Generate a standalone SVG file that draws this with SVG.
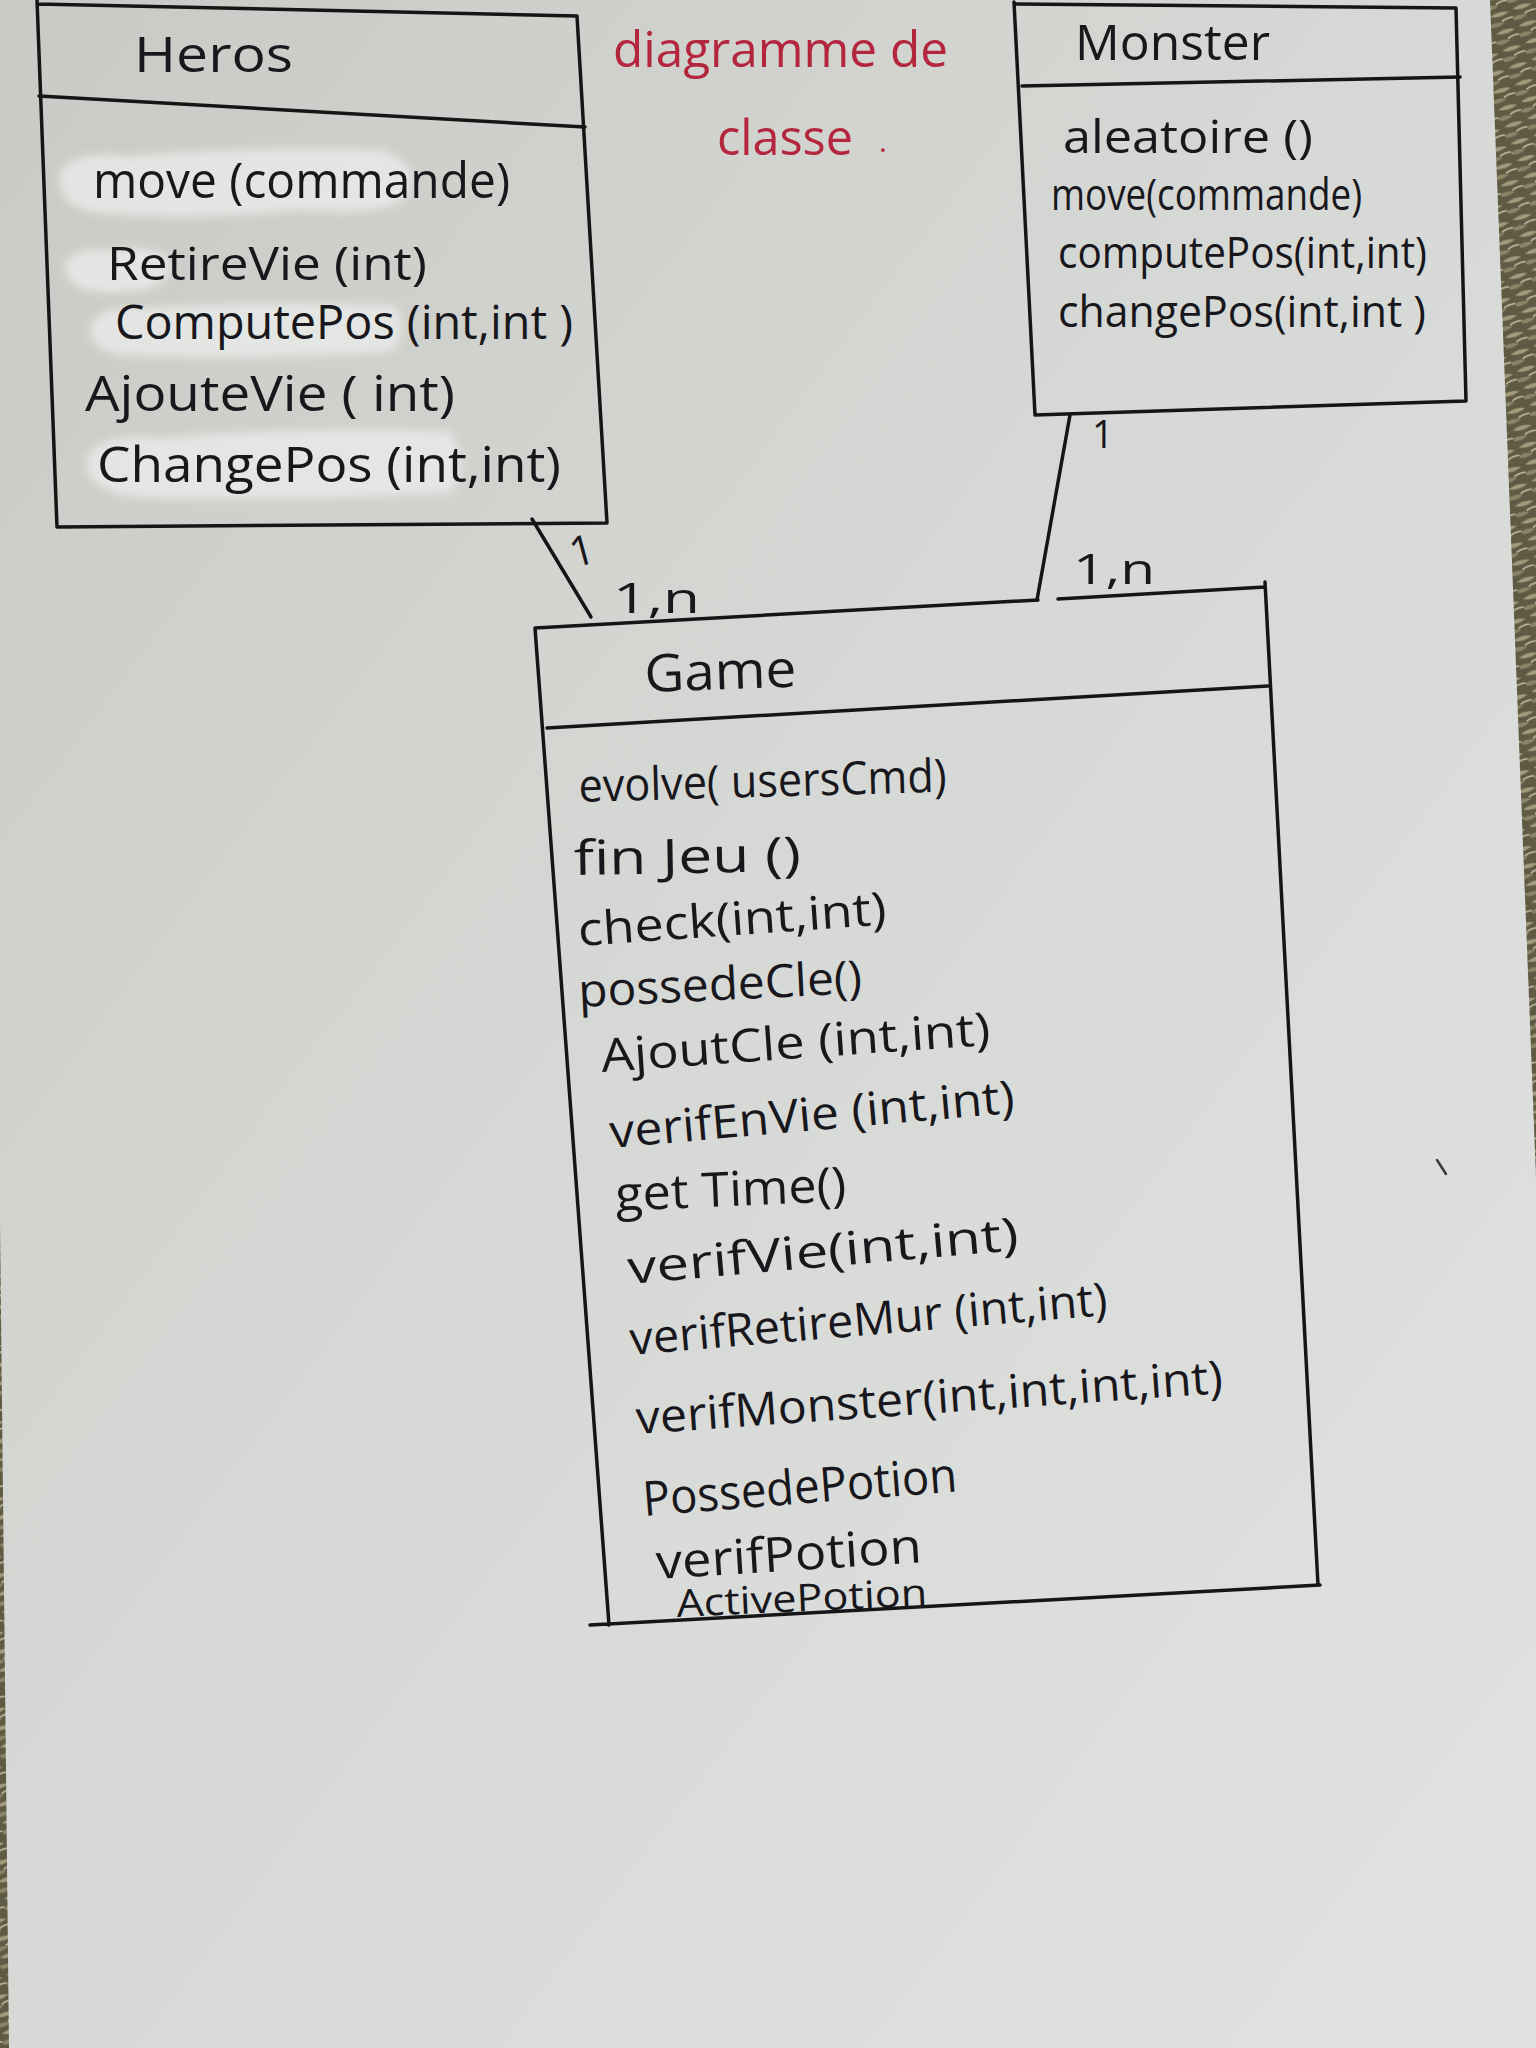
<svg xmlns="http://www.w3.org/2000/svg" width="1536" height="2048" viewBox="0 0 1536 2048">
  <defs>
    <linearGradient id="paper" x1="0" y1="0" x2="1" y2="1">
      <stop offset="0" stop-color="#c9cac5"/>
      <stop offset="0.45" stop-color="#d6d8d5"/>
      <stop offset="1" stop-color="#e1e3e3"/>
    </linearGradient>
    <pattern id="carpet" width="24" height="18" patternUnits="userSpaceOnUse" patternTransform="rotate(-20)">
      <rect width="24" height="18" fill="#5f5a44"/>
      <path d="M2 4 Q12 0 22 5 Q12 9 2 4Z" fill="#a49b7c"/>
      <path d="M-4 13 Q6 9 14 14 Q6 18 -4 13Z" fill="#8c8466"/>
      <path d="M12 12 Q20 9 28 13" stroke="#c7c0a6" stroke-width="1.5" fill="none"/>
    </pattern>
    <filter id="soft" x="-10%" y="-40%" width="120%" height="180%">
      <feGaussianBlur stdDeviation="4"/>
    </filter>
  </defs>
  <style>
    .ink { fill: #17171c; font-family: "Open Sans", "DejaVu Sans", sans-serif; font-weight: 400; }
    .red { fill: #b3263d; font-family: "Open Sans", "DejaVu Sans", sans-serif; font-weight: 400; }
    .edge { fill: none; stroke: #151518; stroke-width: 3.5; stroke-linecap: round; stroke-linejoin: round; }
    .fluid { fill: #eef0ee; opacity: 0.7; filter: url(#soft); }
  </style>

  <!-- sheet of paper and the surface around it -->
  <rect width="1536" height="2048" fill="url(#paper)"/>
  <polygon points="1490,0 1536,0 1536,1178" fill="url(#carpet)"/>
  <polygon points="0,1220 9,2048 0,2048" fill="url(#carpet)"/>
  <path d="M1437,1160 L1446,1174" stroke="#3a3a3e" stroke-width="2.5" stroke-linecap="round"/>

  <!-- title -->
  <g id="title">
    <text class="red" x="613" y="67" font-size="50" textLength="335" lengthAdjust="spacingAndGlyphs">diagramme de</text>
    <text class="red" x="717" y="155" font-size="50" textLength="136" lengthAdjust="spacingAndGlyphs">classe</text>
    <text class="red" x="879" y="152" font-size="30">.</text>
  </g>

  <!-- class Heros -->
  <g id="heros">
    <path class="edge" d="M37,0 L57,527 L607,523 L577,16 L37,4"/>
    <path class="edge" d="M39,96 L585,127"/>
    <!-- correction fluid under some of the methods -->
    <path class="fluid" d="M60,172 Q70,150 130,156 Q250,146 380,150 Q418,160 410,190 Q400,218 300,210 Q180,222 90,212 Q56,204 60,172Z"/>
    <path class="fluid" d="M64,268 Q68,246 110,250 Q160,244 170,262 Q172,292 120,292 Q70,296 64,268Z"/>
    <path class="fluid" d="M90,330 Q92,304 150,308 Q280,300 395,306 Q410,330 392,352 Q260,360 140,356 Q92,356 90,330Z"/>
    <path class="fluid" d="M86,462 Q90,432 160,438 Q300,426 450,432 Q470,462 452,492 Q300,502 150,498 Q88,496 86,462Z"/>
    <text class="ink" x="134" y="72" font-size="50" textLength="159" lengthAdjust="spacingAndGlyphs">Heros</text>
    <text class="ink" x="93" y="198" font-size="50" textLength="417" lengthAdjust="spacingAndGlyphs">move (commande)</text>
    <text class="ink" x="107" y="280" font-size="46" textLength="320" lengthAdjust="spacingAndGlyphs">RetireVie (int)</text>
    <text class="ink" x="115" y="339" font-size="48" textLength="458" lengthAdjust="spacingAndGlyphs">ComputePos (int,int )</text>
    <text class="ink" x="85" y="411" font-size="50" textLength="370" lengthAdjust="spacingAndGlyphs">AjouteVie ( int)</text>
    <text class="ink" x="97" y="482" font-size="50" textLength="464" lengthAdjust="spacingAndGlyphs">ChangePos (int,int)</text>
  </g>

  <!-- class Monster -->
  <g id="monster">
    <path class="edge" d="M1014,2 L1035,415 L1466,401 L1456,8 L1014,4"/>
    <path class="edge" d="M1022,86 L1460,77"/>
    <text class="ink" x="1075" y="60" font-size="50" textLength="195" lengthAdjust="spacingAndGlyphs">Monster</text>
    <text class="ink" x="1063" y="153" font-size="46" textLength="250" lengthAdjust="spacingAndGlyphs">aleatoire ()</text>
    <text class="ink" x="1051" y="210" font-size="44" textLength="311" lengthAdjust="spacingAndGlyphs">move(commande)</text>
    <text class="ink" x="1058" y="268" font-size="44" textLength="369" lengthAdjust="spacingAndGlyphs">computePos(int,int)</text>
    <text class="ink" x="1058" y="327" font-size="44" textLength="368" lengthAdjust="spacingAndGlyphs">changePos(int,int )</text>
  </g>

  <!-- class Game -->
  <g id="game">
    <path class="edge" d="M535,628 L1038,600 M1058,599 L1265,587 M1265,582 L1318,1585 M1320,1585 L590,1625 M609,1625 L535,628"/>
    <path class="edge" d="M547,728 L1268,686"/>
    <text class="ink" x="645" y="692" font-size="52" textLength="152" lengthAdjust="spacingAndGlyphs" transform="rotate(-2 645 692)">Game</text>
    <text class="ink" x="579" y="802" font-size="46" textLength="368" lengthAdjust="spacingAndGlyphs" transform="rotate(-1.6 579 802)">evolve( usersCmd)</text>
    <text class="ink" x="574" y="875" font-size="48" textLength="227" lengthAdjust="spacingAndGlyphs" transform="rotate(-1 574 875)">fin Jeu ()</text>
    <text class="ink" x="579" y="946" font-size="46" textLength="309" lengthAdjust="spacingAndGlyphs" transform="rotate(-4 579 946)">check(int,int)</text>
    <text class="ink" x="579" y="1007" font-size="46" textLength="284" lengthAdjust="spacingAndGlyphs" transform="rotate(-2.8 579 1007)">possedeCle()</text>
    <text class="ink" x="602" y="1072" font-size="46" textLength="390" lengthAdjust="spacingAndGlyphs" transform="rotate(-4 602 1072)">AjoutCle (int,int)</text>
    <text class="ink" x="611" y="1148" font-size="46" textLength="406" lengthAdjust="spacingAndGlyphs" transform="rotate(-5 611 1148)">verifEnVie (int,int)</text>
    <text class="ink" x="616" y="1211" font-size="48" textLength="231" lengthAdjust="spacingAndGlyphs" transform="rotate(-2.5 616 1211)">get Time()</text>
    <text class="ink" x="629" y="1284" font-size="46" textLength="392" lengthAdjust="spacingAndGlyphs" transform="rotate(-5 629 1284)">verifVie(int,int)</text>
    <text class="ink" x="631" y="1355" font-size="46" textLength="479" lengthAdjust="spacingAndGlyphs" transform="rotate(-4.8 631 1355)">verifRetireMur (int,int)</text>
    <text class="ink" x="637" y="1434" font-size="46" textLength="588" lengthAdjust="spacingAndGlyphs" transform="rotate(-4 637 1434)">verifMonster(int,int,int,int)</text>
    <text class="ink" x="644" y="1516" font-size="48" textLength="315" lengthAdjust="spacingAndGlyphs" transform="rotate(-4.5 644 1516)">PossedePotion</text>
    <text class="ink" x="657" y="1579" font-size="48" textLength="266" lengthAdjust="spacingAndGlyphs" transform="rotate(-3.6 657 1579)">verifPotion</text>
    <text class="ink" x="677" y="1617" font-size="38" textLength="251" lengthAdjust="spacingAndGlyphs" transform="rotate(-2.6 677 1617)">ActivePotion</text>
  </g>

  <!-- associations and their multiplicities -->
  <g id="connectors">
    <path class="edge" d="M532,519 L591,617"/>
    <path class="edge" d="M1070,415 L1037,600"/>
    <text class="ink" x="574" y="568" font-size="42" transform="rotate(-15 574 568)">1</text>
    <text class="ink" x="613" y="613" font-size="42" textLength="87" lengthAdjust="spacingAndGlyphs">1,n</text>
    <text class="ink" x="1092" y="448" font-size="38">1</text>
    <text class="ink" x="1073" y="584" font-size="42" textLength="82" lengthAdjust="spacingAndGlyphs">1,n</text>
  </g>
</svg>
